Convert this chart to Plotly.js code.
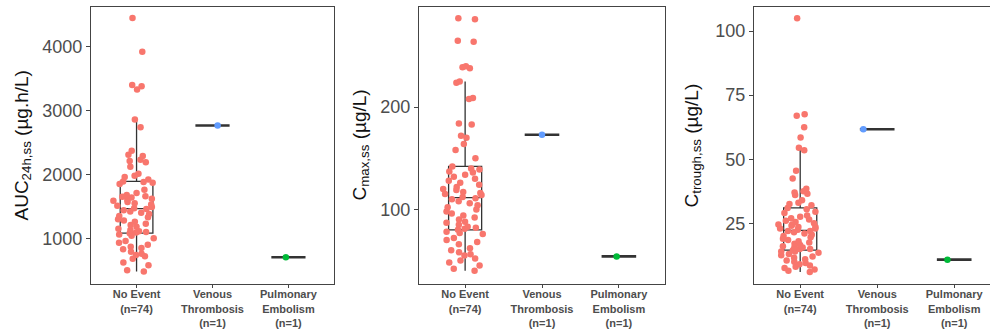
<!DOCTYPE html>
<html>
<head>
<meta charset="utf-8">
<script src="https://cdn.plot.ly/plotly-3.0.1.min.js"></script>
<style>html,body{margin:0;padding:0;background:#fff;}#chart{width:990px;height:330px;}</style>
</head>
<body>
<div id="chart"></div>
<script>
const categories = ["No Event", "Venous Thrombosis", "Pulmonary Embolism"];
const tickLabels = ["No Event<br>(n=74)", "Venous<br>Thrombosis<br>(n=1)", "Pulmonary<br>Embolism<br>(n=1)"];
const groupColors = ["#F8766D", "#619CFF", "#00BA38"];

// AUC24h,ss (µg.h/L)
const aucNoEvent = [4450, 3920, 3400, 3380, 3330, 2860, 2740, 2370, 2310, 2290, 2230, 2210, 2190, 2120, 2010, 1980, 1960, 1920,
  1890, 1880, 1870, 1850, 1760, 1710, 1680, 1660, 1650, 1640, 1620, 1600, 1590, 1570, 1550, 1530, 1510, 1490,
  1470, 1460, 1440, 1420, 1400, 1380, 1350, 1330, 1300, 1280, 1260, 1230, 1210, 1180, 1150, 1130, 1110, 1100, 1090,
  1080, 1060, 1040, 1000, 960, 930, 900, 870, 850, 830, 790, 760, 740, 720, 680, 620, 580, 500, 480];
const aucVenous = [2765];
const aucPulmonary = [703];

// Cmax,ss (µg/L)
const cmaxNoEvent = [287, 286, 265, 264, 240, 239, 238, 225, 224, 209, 208, 184, 183, 172, 170, 164, 158, 150,
  142, 140, 139, 137, 136, 134, 132, 130, 128, 126, 124, 122, 120, 119, 117, 116, 115, 114,
  112, 111, 110, 108, 106, 104, 102, 100, 98, 96, 94, 92, 90, 88, 87, 85, 83, 82, 81,
  80, 78, 77, 76, 72, 70, 68, 66, 62, 60, 58, 56, 55, 52, 50, 48, 45, 42, 40];
const cmaxVenous = [173];
const cmaxPulmonary = [54];

// Ctrough,ss (µg/L)
const ctroughNoEvent = [105, 67.5, 67, 62.5, 58.5, 54.5, 53.5, 45.5, 42.5, 38.5, 37.5, 37, 36.5, 36, 34, 33, 32.5, 32,
  31, 30.5, 29.5, 29, 28, 27.5, 27, 26.5, 26, 25.5, 25, 24.5, 24.5, 24, 23.5, 23.5, 23, 23,
  22.5, 22, 22, 21.5, 21, 20.5, 20, 19.5, 19, 18.5, 18, 17.5, 17, 16.5, 16, 15.5, 15.5, 15, 15,
  14.5, 14, 14, 13.5, 13, 12.5, 12, 11.5, 11, 10.5, 10, 9.5, 9, 8.5, 8, 7.5, 7, 6.5, 6];
const ctroughVenous = [61.7];
const ctroughPulmonary = [10.8];

const panels = [
  {noEvent: aucNoEvent, venous: aucVenous, pulm: aucPulmonary, pos: [0.3, -0.15]},
  {noEvent: cmaxNoEvent, venous: cmaxVenous, pulm: cmaxPulmonary, pos: [0, -0.13]},
  {noEvent: ctroughNoEvent, venous: ctroughVenous, pulm: ctroughPulmonary, pos: [-0.8, -0.39]}
];

const lineCol = "#333333";
const traces = [];
panels.forEach((p, i) => {
  const xa = i === 0 ? "x" : "x" + (i + 1);
  const ya = i === 0 ? "y" : "y" + (i + 1);
  // box for No Event (outlier markers hidden; points drawn by the jitter trace)
  traces.push({type: "box", x: p.noEvent.map(() => categories[0]), y: p.noEvent, xaxis: xa, yaxis: ya,
    boxpoints: "outliers", width: 0.43, whiskerwidth: 0, line: {color: lineCol, width: 1.3},
    marker: {opacity: 0, size: 1},
    fillcolor: "rgba(255,255,255,0)", showlegend: false, hoverinfo: "skip"});
  // jittered points for No Event
  traces.push({type: "box", x: p.noEvent.map(() => categories[0]), y: p.noEvent, xaxis: xa, yaxis: ya,
    boxpoints: "all", jitter: 1, pointpos: 0, width: 0.62, whiskerwidth: 0,
    line: {color: "rgba(0,0,0,0)", width: 0}, fillcolor: "rgba(0,0,0,0)",
    marker: {color: groupColors[0], size: 6.5, line: {width: 0}}, showlegend: false, hoverinfo: "skip"});
  // single-value groups
  [[p.venous, 1], [p.pulm, 2]].forEach(([vals, g], k) => {
    traces.push({type: "box", x: vals.map(() => categories[g]), y: vals, xaxis: xa, yaxis: ya,
      boxpoints: "all", jitter: 0, pointpos: p.pos[k], width: 0.45, whiskerwidth: 0,
      line: {color: lineCol, width: 2.6}, fillcolor: "rgba(255,255,255,0)",
      marker: {color: groupColors[g], size: 6.5, line: {width: 0}}, showlegend: false, hoverinfo: "skip"});
  });
});

const fontFam = "Liberation Sans, Arial, Helvetica, sans-serif";
function xAxis(dom, rng, mirror, yname) {
  return {domain: dom, anchor: yname, type: "category", categoryorder: "array", categoryarray: categories,
    range: rng, tickvals: categories, ticktext: tickLabels, showline: true, mirror: mirror,
    linecolor: "#444", linewidth: 1.2, ticks: "outside", ticklen: 3, tickcolor: "#444", tickwidth: 1,
    ticklabelstandoff: -3,
    tickfont: {family: fontFam, size: 11, color: "#4d4d4d", weight: "bold"},
    showgrid: false, zeroline: false, fixedrange: true};
}
function yAxis(rng, tv, mirror, xname) {
  return {domain: [0, 1], anchor: xname, range: rng, tickvals: tv, showline: true, mirror: mirror,
    linecolor: "#444", linewidth: 1.2, ticks: "outside", ticklen: 4, tickcolor: "#444", tickwidth: 1,
    tickfont: {family: fontFam, size: 18, color: "#4d4d4d"},
    showgrid: false, zeroline: false, fixedrange: true};
}

const titleFont = {family: fontFam, size: 19, color: "#111"};
const layout = {
  width: 990, height: 330,
  margin: {l: 0, r: 0, t: 7, b: 46},
  paper_bgcolor: "#fff", plot_bgcolor: "#fff",
  boxmode: "overlay", showlegend: false,
  xaxis: xAxis([91/990, 334/990], [-0.6, 2.6], true, "y"),
  yaxis: yAxis([285, 4621], [1000, 2000, 3000, 4000], true, "x"),
  xaxis2: xAxis([419/990, 665/990], [-0.6, 2.6], true, "y2"),
  yaxis2: yAxis([27, 298], [100, 200], true, "x2"),
  xaxis3: xAxis([754/990, 1], [-0.6, 2.465], true, "y3"),
  yaxis3: yAxis([1.3, 109.4], [25, 50, 75, 100], false, "x3"),
  annotations: [
    {text: "AUC<sub>24h,ss</sub> (µg.h/L)", x: 22/990, y: 0.5, xref: "paper", yref: "paper", textangle: -90,
      showarrow: false, xanchor: "center", yanchor: "middle", font: titleFont},
    {text: "C<sub>max,ss</sub> (µg/L)", x: 360/990, y: 0.5, xref: "paper", yref: "paper", textangle: -90,
      showarrow: false, xanchor: "center", yanchor: "middle", font: titleFont},
    {text: "C<sub>trough,ss</sub> (µg/L)", x: 692/990, y: 0.5, xref: "paper", yref: "paper", textangle: -90,
      showarrow: false, xanchor: "center", yanchor: "middle", font: titleFont}
  ]
};

Plotly.newPlot("chart", traces, layout, {staticPlot: true, displayModeBar: false});
</script>
</body>
</html>
